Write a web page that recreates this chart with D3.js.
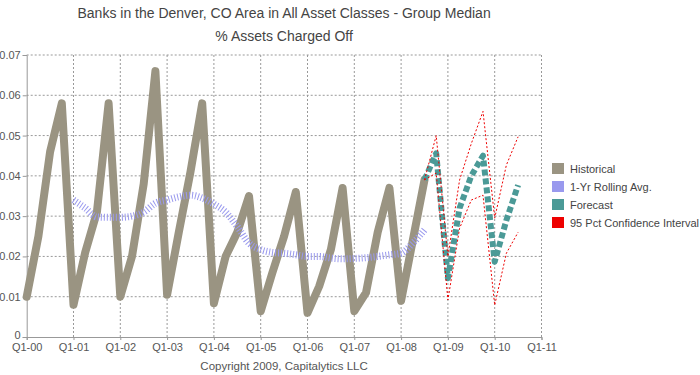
<!DOCTYPE html>
<html>
<head>
<meta charset="utf-8">
<script src="https://cdn.jsdelivr.net/npm/d3@7"></script>
<style>
  body { margin: 0; background: #fff; }
  svg { font-family: "Liberation Sans", Arial, sans-serif; }
</style>
</head>
<body>
<div id="chart"></div>
<script>
// quarter index 0 = Q1-00
var tickLabels = ["Q1-00","Q1-01","Q1-02","Q1-03","Q1-04","Q1-05","Q1-06","Q1-07","Q1-08","Q1-09","Q1-10","Q1-11"];
var yTicks = [0, 0.01, 0.02, 0.03, 0.04, 0.05, 0.06, 0.07];

// Q1-00 .. Q3-08
var historical = [
  0.010, 0.025, 0.046, 0.058,
  0.008, 0.021, 0.031, 0.058,
  0.010, 0.020, 0.038, 0.066,
  0.0105, 0.026, 0.041, 0.058,
  0.0084, 0.020, 0.026, 0.035,
  0.0064, 0.016, 0.025, 0.036,
  0.006, 0.0126, 0.0217, 0.037,
  0.0064, 0.011, 0.026, 0.037,
  0.009, 0.024, 0.039
];

// Q1-01 .. Q3-08
var rollingStart = 4;
var rollingAvg = [
  0.034, 0.032, 0.0298, 0.0297,
  0.0297, 0.030, 0.031, 0.0332,
  0.034, 0.0348, 0.0352, 0.0345,
  0.033, 0.031, 0.0274, 0.0233,
  0.0217, 0.021, 0.0208, 0.0204,
  0.020, 0.020, 0.0196, 0.0194,
  0.0195, 0.0197, 0.020, 0.0204,
  0.0208, 0.0233, 0.0266
];

// Q3-08 .. Q3-10
var forecastStart = 34;
var forecast = [0.039, 0.0456, 0.0146, 0.032, 0.040, 0.045, 0.0187, 0.029, 0.0377];
var upper95  = [0.039, 0.050, 0.020, 0.039, 0.048, 0.056, 0.0295, 0.0427, 0.0497];
var lower95  = [0.039, 0.0407, 0.0092, 0.027, 0.034, 0.0352, 0.0079, 0.0208, 0.026];

var legendItems = [
  { name: "Historical", color: "#9a9482" },
  { name: "1-Yr Rolling Avg.", color: "#9999ee" },
  { name: "Forecast", color: "#4b9a97" },
  { name: "95 Pct Confidence Interval", color: "#ee0000" }
];

var w = 700, h = 375;
var plotLeft = 26.7, plotRight = 541.5, plotTop = 55, plotBottom = 337;

var svg = d3.select("#chart").append("svg")
  .attr("width", w)
  .attr("height", h);

var x = d3.scaleLinear().domain([0, 44]).range([plotLeft, plotRight]);
var y = d3.scaleLinear().domain([0, 0.07]).range([plotBottom, plotTop]);

// grid
svg.append("g").selectAll("line")
  .data(yTicks.slice(1))
  .enter().append("line")
  .attr("x1", plotLeft).attr("x2", plotRight)
  .attr("y1", function (d) { return y(d); })
  .attr("y2", function (d) { return y(d); })
  .attr("stroke", "#999").attr("stroke-width", 1)
  .attr("stroke-dasharray", "2,2");

svg.append("g").selectAll("line")
  .data(d3.range(1, tickLabels.length))
  .enter().append("line")
  .attr("x1", function (d) { return x(d * 4); })
  .attr("x2", function (d) { return x(d * 4); })
  .attr("y1", plotTop).attr("y2", plotBottom)
  .attr("stroke", "#999").attr("stroke-width", 1)
  .attr("stroke-dasharray", "2,2");

// axes
var yAxis = d3.axisLeft(y).tickValues(yTicks).tickSize(4).tickPadding(2)
  .tickFormat(function (d) { return d === 0 ? "0" : d3.format(".2f")(d); });
var xAxis = d3.axisBottom(x).tickValues(d3.range(0, 45, 4)).tickSize(3).tickPadding(3)
  .tickFormat(function (d) { return tickLabels[d / 4]; });

var gy = svg.append("g").attr("transform", "translate(" + plotLeft + ",0)").call(yAxis);
var gx = svg.append("g").attr("transform", "translate(0," + plotBottom + ")").call(xAxis);
[gy, gx].forEach(function (g) {
  g.select(".domain").attr("stroke", "#999");
  g.selectAll(".tick line").attr("stroke", "#999");
  g.selectAll("text").attr("fill", "#555").style("font-size", "11px")
   .style("font-family", "'Liberation Sans', Arial, sans-serif");
});
// lift the "0" label a little so it clears Q1-00
gy.selectAll(".tick text").filter(function (d) { return d === 0; }).attr("dy", "0.1em");

// series
var line = d3.line()
  .x(function (d) { return x(d.i); })
  .y(function (d) { return y(d.v); });

function toPts(arr, start) {
  return arr.map(function (v, k) { return { i: start + k, v: v }; });
}

svg.append("path")
  .datum(toPts(historical, 0))
  .attr("d", line)
  .attr("fill", "none")
  .attr("stroke", legendItems[0].color)
  .attr("stroke-width", 8)
  .attr("stroke-linejoin", "round")
  .attr("stroke-linecap", "round");

svg.append("path")
  .datum(toPts(rollingAvg, rollingStart))
  .attr("d", line.curve(d3.curveMonotoneX))
  .attr("fill", "none")
  .attr("stroke", legendItems[1].color)
  .attr("stroke-width", 7)
  .attr("stroke-dasharray", "1,2");

line.curve(d3.curveLinear);

svg.append("path")
  .datum(toPts(forecast, forecastStart))
  .attr("d", line)
  .attr("fill", "none")
  .attr("stroke", legendItems[2].color)
  .attr("stroke-width", 6)
  .attr("stroke-linejoin", "round")
  .attr("stroke-dasharray", "6,3");

[upper95, lower95].forEach(function (arr) {
  svg.append("path")
    .datum(toPts(arr, forecastStart))
    .attr("d", line)
    .attr("fill", "none")
    .attr("stroke", legendItems[3].color)
    .attr("stroke-width", 1)
    .attr("stroke-dasharray", "2,2");
});

// legend
var leg = svg.append("g").attr("transform", "translate(552,163)");
var rows = leg.selectAll("g").data(legendItems).enter().append("g")
  .attr("transform", function (d, i) { return "translate(0," + (i * 18) + ")"; });
rows.append("rect").attr("width", 12).attr("height", 11)
  .attr("fill", function (d) { return d.color; });
rows.append("text").attr("x", 18).attr("y", 10)
  .attr("fill", "#444").style("font-size", "11px")
  .text(function (d) { return d.name; });

// titles
var cx = (plotLeft + plotRight) / 2;
svg.append("text").attr("x", cx).attr("y", 18).attr("text-anchor", "middle")
  .attr("fill", "#444").style("font-size", "14px")
  .text("Banks in the Denver, CO Area in All Asset Classes - Group Median");
svg.append("text").attr("x", cx).attr("y", 41).attr("text-anchor", "middle")
  .attr("fill", "#444").style("font-size", "14px")
  .text("% Assets Charged Off");
svg.append("text").attr("x", cx).attr("y", 370).attr("text-anchor", "middle")
  .attr("fill", "#555").style("font-size", "11.5px")
  .text("Copyright 2009, Capitalytics LLC");
</script>
</body>
</html>
